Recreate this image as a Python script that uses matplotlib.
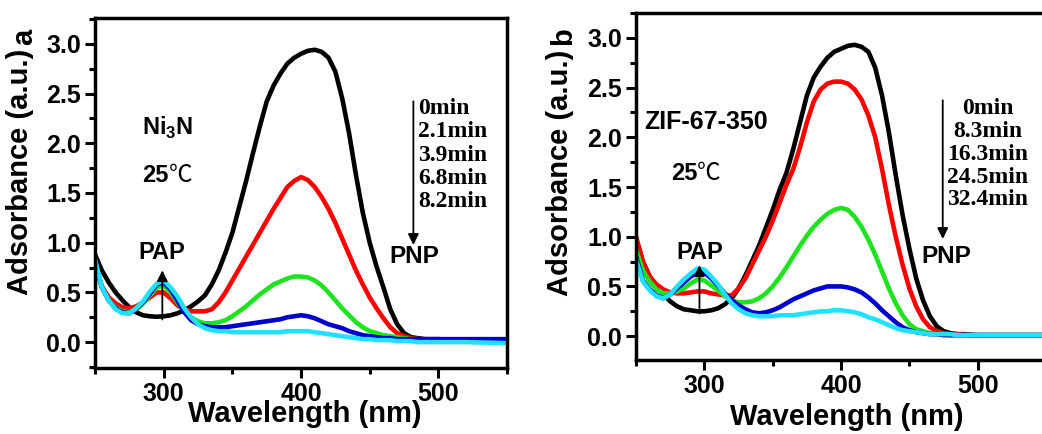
import matplotlib
matplotlib.use("Agg")
import matplotlib.pyplot as plt
from matplotlib.ticker import MultipleLocator

plt.rcParams['font.family'] = ['Liberation Sans', 'DejaVu Sans']
plt.rcParams['font.weight'] = 'bold'
plt.rcParams['mathtext.fontset'] = 'custom'
plt.rcParams['mathtext.rm'] = 'Liberation Sans:bold'

# wavelength grid (nm), shared by both panels
wavelength = [250, 255, 260, 265, 270, 275, 280, 285, 290, 295,
              300, 305, 310, 315, 320, 325, 330, 335, 340, 345,
              350, 355, 360, 365, 370, 375, 380, 385, 390, 395,
              400, 405, 410, 415, 420, 425, 430, 435, 440, 445,
              450, 455, 460, 465, 470, 475, 480, 485, 490, 500,
              520, 550]

# panel a : Ni3N
a_0min = [0.88, 0.72, 0.60, 0.50, 0.42, 0.35, 0.30, 0.27, 0.26, 0.255,
          0.26, 0.27, 0.29, 0.32, 0.36, 0.41, 0.47, 0.58, 0.72, 0.90,
          1.10, 1.36, 1.62, 1.90, 2.17, 2.42, 2.58, 2.70, 2.80, 2.86,
          2.90, 2.93, 2.94, 2.92, 2.86, 2.72, 2.45, 2.10, 1.68, 1.30,
          1.00, 0.76, 0.55, 0.33, 0.18, 0.09, 0.05, 0.04, 0.03, 0.03,
          0.02, 0.02]
a_2min = [0.80, 0.56, 0.45, 0.39, 0.35, 0.34, 0.36, 0.40, 0.45, 0.50,
          0.50, 0.44, 0.37, 0.33, 0.31, 0.31, 0.31, 0.33, 0.40, 0.50,
          0.62, 0.74, 0.86, 0.98, 1.10, 1.22, 1.34, 1.45, 1.56, 1.62,
          1.66, 1.63, 1.56, 1.46, 1.34, 1.20, 1.04, 0.88, 0.72, 0.58,
          0.45, 0.34, 0.24, 0.15, 0.09, 0.06, 0.04, 0.03, 0.03, 0.02,
          0.02, 0.01]
a_4min = [0.78, 0.55, 0.42, 0.35, 0.31, 0.30, 0.33, 0.39, 0.47, 0.55,
          0.57, 0.50, 0.40, 0.31, 0.25, 0.21, 0.19, 0.19, 0.20, 0.22,
          0.26, 0.31, 0.36, 0.42, 0.48, 0.53, 0.58, 0.61, 0.64, 0.66,
          0.66, 0.65, 0.62, 0.57, 0.50, 0.42, 0.34, 0.27, 0.20, 0.15,
          0.11, 0.09, 0.07, 0.06, 0.05, 0.04, 0.03, 0.03, 0.02, 0.02,
          0.02, 0.01]
a_7min = [0.78, 0.55, 0.42, 0.34, 0.30, 0.29, 0.33, 0.40, 0.49, 0.58,
          0.60, 0.53, 0.42, 0.30, 0.22, 0.18, 0.16, 0.15, 0.15, 0.15,
          0.16, 0.17, 0.18, 0.19, 0.20, 0.21, 0.22, 0.23, 0.25, 0.26,
          0.27, 0.26, 0.24, 0.21, 0.18, 0.16, 0.14, 0.11, 0.09, 0.07,
          0.06, 0.05, 0.04, 0.04, 0.03, 0.03, 0.03, 0.03, 0.03, 0.03,
          0.03, 0.03]
a_8min = [0.83, 0.55, 0.42, 0.33, 0.29, 0.29, 0.34, 0.41, 0.51, 0.59,
          0.62, 0.55, 0.46, 0.34, 0.25, 0.18, 0.14, 0.12, 0.11, 0.11,
          0.10, 0.10, 0.10, 0.10, 0.10, 0.10, 0.10, 0.10, 0.11, 0.11,
          0.11, 0.11, 0.10, 0.09, 0.08, 0.07, 0.06, 0.05, 0.04, 0.03,
          0.03, 0.02, 0.02, 0.02, 0.01, 0.01, 0.01, 0.0, 0.0, 0.0,
          0.0, -0.01]

# panel b : ZIF-67-350
b_0min = [0.98, 0.75, 0.60, 0.50, 0.42, 0.35, 0.30, 0.27, 0.26, 0.25,
          0.25, 0.26, 0.28, 0.32, 0.38, 0.48, 0.61, 0.76, 0.91, 1.09,
          1.27, 1.47, 1.64, 1.88, 2.15, 2.42, 2.60, 2.71, 2.80, 2.86,
          2.89, 2.92, 2.93, 2.91, 2.86, 2.70, 2.42, 2.05, 1.62, 1.22,
          0.88, 0.58, 0.36, 0.20, 0.10, 0.05, 0.03, 0.02, 0.02, 0.01,
          0.01, 0.01]
b_8min = [1.00, 0.75, 0.60, 0.52, 0.47, 0.44, 0.43, 0.43, 0.44, 0.45,
          0.45, 0.43, 0.42, 0.41, 0.41, 0.48, 0.58, 0.72, 0.86, 1.00,
          1.16, 1.34, 1.52, 1.68, 1.90, 2.15, 2.36, 2.48, 2.54, 2.56,
          2.56, 2.54, 2.48, 2.38, 2.22, 2.00, 1.68, 1.32, 1.00, 0.72,
          0.48, 0.30, 0.17, 0.09, 0.05, 0.03, 0.02, 0.02, 0.01, 0.01,
          0.01, 0.01]
b_16min = [0.87, 0.66, 0.55, 0.47, 0.43, 0.43, 0.45, 0.48, 0.53, 0.57,
           0.56, 0.51, 0.46, 0.40, 0.36, 0.34, 0.34, 0.35, 0.38, 0.43,
           0.50, 0.59, 0.69, 0.80, 0.91, 1.01, 1.10, 1.17, 1.23, 1.27,
           1.29, 1.27, 1.20, 1.10, 0.97, 0.82, 0.65, 0.48, 0.33, 0.21,
           0.12, 0.07, 0.05, 0.03, 0.02, 0.02, 0.01, 0.01, 0.01, 0.01,
           0.01, 0.01]
b_24min = [0.80, 0.56, 0.47, 0.41, 0.38, 0.42, 0.48, 0.54, 0.60, 0.64,
           0.64, 0.58, 0.51, 0.43, 0.36, 0.31, 0.27, 0.24, 0.23, 0.24,
           0.26, 0.29, 0.33, 0.37, 0.40, 0.43, 0.46, 0.48, 0.50, 0.50,
           0.50, 0.49, 0.47, 0.44, 0.39, 0.33, 0.26, 0.20, 0.14, 0.09,
           0.06, 0.04, 0.03, 0.02, 0.02, 0.01, 0.01, 0.01, 0.01, 0.01,
           0.01, 0.01]
b_32min = [0.77, 0.55, 0.46, 0.40, 0.38, 0.42, 0.50, 0.57, 0.63, 0.68,
           0.67, 0.60, 0.52, 0.42, 0.33, 0.27, 0.23, 0.21, 0.20, 0.20,
           0.20, 0.21, 0.21, 0.21, 0.22, 0.23, 0.24, 0.25, 0.25, 0.26,
           0.26, 0.25, 0.24, 0.22, 0.19, 0.17, 0.14, 0.11, 0.08, 0.06,
           0.05, 0.04, 0.03, 0.02, 0.02, 0.02, 0.02, 0.01, 0.01, 0.01,
           0.01, 0.01]

colors = ['black', '#ff0000', '#1ee31e', '#0000cc', '#22e0ff']
a_times = ['0min', '2.1min', '3.9min', '6.8min', '8.2min']
b_times = ['0min', '8.3min', '16.3min', '24.5min', '32.4min']


def style_axes(ax, ylim):
    ax.set_xlim(250, 550)
    ax.set_ylim(*ylim)
    ax.xaxis.set_major_locator(MultipleLocator(100))
    ax.xaxis.set_minor_locator(MultipleLocator(50))
    ax.yaxis.set_major_locator(MultipleLocator(0.5))
    ax.yaxis.set_minor_locator(MultipleLocator(0.25))
    ax.tick_params(which='major', direction='out', length=7, width=2.2, labelsize=18, pad=3)
    ax.tick_params(which='minor', direction='out', length=4, width=2.2)
    for s in ax.spines.values():
        s.set_linewidth(2.5)
    ax.set_xlabel('Wavelength (nm)', fontsize=21, fontweight='bold')
    ax.set_ylabel('Adsorbance (a.u.)', fontsize=21, fontweight='bold')


def celsius(ax, x, y):
    t = ax.text(x, y, '25', transform=ax.transAxes, fontsize=17)
    ax.annotate('℃', xy=(1.0, 0.0), xycoords=t, fontsize=17, fontweight='normal',
                family=['Noto Sans CJK SC', 'DejaVu Sans'], ha='left', va='bottom')


fig = plt.figure(figsize=(10.42, 4.34), dpi=100)
ax1 = fig.add_axes([0.0912, 0.1521, 0.3954, 0.8065])
ax2 = fig.add_axes([0.6104, 0.1705, 0.3935, 0.7995])

for ys, c in zip([a_0min, a_2min, a_4min, a_7min, a_8min], colors):
    ax1.plot(wavelength, ys, color=c, lw=3.3, solid_joinstyle='round')
for ys, c in zip([b_0min, b_8min, b_16min, b_24min, b_32min], colors):
    ax2.plot(wavelength, ys, color=c, lw=3.3, solid_joinstyle='round')

style_axes(ax1, (-0.26, 3.26))
style_axes(ax2, (-0.24, 3.25))
ax1.yaxis.set_label_coords(-0.148, 0.56)
ax2.yaxis.set_label_coords(-0.151, 0.54)
ax1.xaxis.set_label_coords(0.51, -0.092)
ax2.xaxis.set_label_coords(0.513, -0.124)

arrow = dict(arrowstyle='-|>', color='black', lw=1.3, mutation_scale=16)

# panel a annotations
ax1.text(0.115, 0.665, r'Ni$_\mathrm{3}$N', transform=ax1.transAxes, fontsize=17)
celsius(ax1, 0.115, 0.53)
ax1.text(0.105, 0.31, 'PAP', transform=ax1.transAxes, fontsize=17)
ax1.text(0.715, 0.30, 'PNP', transform=ax1.transAxes, fontsize=17.5)
ax1.annotate('', xy=(299, 0.75), xytext=(299, 0.2), arrowprops=arrow)
ax1.annotate('', xy=(481.8, 0.95), xytext=(481.8, 2.45), arrowprops=arrow)
for i, t in enumerate(a_times):
    ax1.text(485.0, 2.35 - i * 0.235, t, fontsize=17, family='Liberation Serif',
             fontweight='bold', ha='left', va='center')

# panel b annotations
ax2.text(0.02, 0.665, 'ZIF-67-350', transform=ax2.transAxes, fontsize=18)
celsius(ax2, 0.085, 0.52)
ax2.text(0.098, 0.29, 'PAP', transform=ax2.transAxes, fontsize=17)
ax2.text(0.697, 0.28, 'PNP', transform=ax2.transAxes, fontsize=17.5)
ax2.annotate('', xy=(296.4, 0.74), xytext=(296.4, 0.2), arrowprops=arrow)
ax2.annotate('', xy=(474.4, 0.95), xytext=(474.4, 2.4), arrowprops=arrow)
for i, t in enumerate(b_times):
    ax2.text(507.3, 2.29 - i * 0.23, t, fontsize=17, family='Liberation Serif',
             fontweight='bold', ha='center', va='center')

# panel letters
fig.text(24 / 1042, 1 - 37 / 434, 'a', fontsize=21, rotation=90, ha='center', va='center')
fig.text(563 / 1042, 1 - 36 / 434, 'b', fontsize=21, rotation=90, ha='center', va='center')

fig.savefig('out.png', dpi=100)
